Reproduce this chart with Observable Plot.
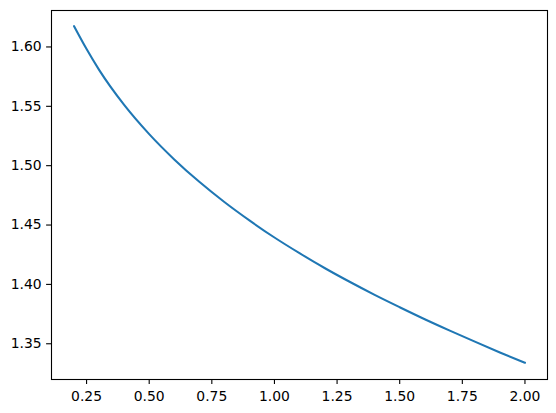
<!DOCTYPE html>
<html>
<head>
<meta charset="utf-8">
<script src="https://cdn.jsdelivr.net/npm/d3@7"></script>
<script src="https://cdn.jsdelivr.net/npm/@observablehq/plot@0.6"></script>
<style>
  html, body { margin: 0; padding: 0; background: white; }
</style>
</head>
<body>
<div id="chart"></div>
<script>
const xValues = [0.2, 0.25, 0.3, 0.4, 0.5, 0.6, 0.7, 0.8, 0.9, 1.0, 1.1, 1.2, 1.3, 1.4, 1.5, 1.6, 1.7, 1.8, 1.9, 2.0];
const yValues = [1.6175, 1.5982, 1.5807, 1.5512, 1.5266, 1.5053, 1.4864, 1.4694, 1.4539, 1.4395, 1.4263, 1.4138, 1.4022, 1.3912, 1.3808, 1.3707, 1.3611, 1.3518, 1.3427, 1.3340];
const xTicks = [0.25, 0.5, 0.75, 1.0, 1.25, 1.5, 1.75, 2.0];
const yTicks = [1.35, 1.40, 1.45, 1.50, 1.55, 1.60];

const data = xValues.map((x, i) => ({x, y: yValues[i]}));

const chart = Plot.plot({
  width: 556,
  height: 413,
  marginLeft: 51,
  marginRight: 9,
  marginTop: 10,
  marginBottom: 34,
  style: {fontFamily: "DejaVu Sans", fontSize: "13.9px", color: "black", background: "white"},
  x: {domain: [0.11, 2.09]},
  y: {domain: [1.3199, 1.6307]},
  marks: [
    Plot.line(data, {x: "x", y: "y", stroke: "#1f77b4", strokeWidth: 2.08, curve: "monotone-x"}),
    Plot.frame({stroke: "black", strokeWidth: 1.1}),
    Plot.axisX({ticks: xTicks, tickFormat: d3.format(".2f"), tickSize: 4.9, tickPadding: 7, label: null, strokeWidth: 1.1, fill: "black"}),
    Plot.axisY({ticks: yTicks, tickFormat: d3.format(".2f"), tickSize: 4.9, tickPadding: 5, label: null, strokeWidth: 1.1, fill: "black"})
  ]
});
document.getElementById("chart").appendChild(chart);
</script>
</body>
</html>
